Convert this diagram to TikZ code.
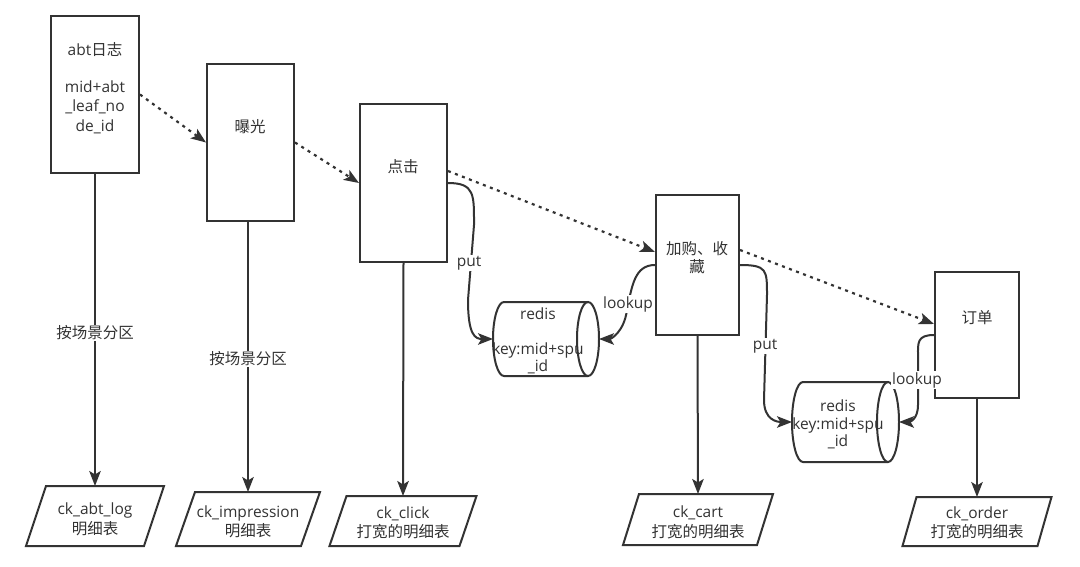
\documentclass[tikz,border=0pt]{standalone}
\usepackage{fontspec}
\setmainfont{Open Sans}
\newfontfamily\cjk{Noto Sans CJK SC}
\usetikzlibrary{arrows.meta,calc}
\definecolor{ink}{HTML}{333333}
\newcommand\zh[1]{{\cjk #1}}
\newcommand\pgram[8]{% name, cx, ytop, ybot, width, skew, texty, text
  \draw[shp,fill=white] ({#2-#5/2-#6/2},#4) -- ({#2+#5/2-#6/2},#4) -- ({#2+#5/2+#6/2},#3) -- ({#2-#5/2+#6/2},#3) -- cycle;
  \node[txt] (#1) at (#2,#7) {#8};
  \coordinate (#1top) at (#2,#3);
}
\begin{document}
\begin{tikzpicture}[x=1pt,y=-1pt,
  shp/.style={draw=ink, line width=2pt},
  box/.style 2 args={shp, fill=white, minimum width=#1pt, minimum height=#2pt, inner sep=0pt},
  txt/.style={text=ink, font=\fontsize{15.5}{19.5}\selectfont, align=center, inner sep=0pt},
  lbl/.style={txt, fill=white, inner sep=1pt},
  tip/.style={-{Stealth[length=15pt,width=11.5pt,inset=3.5pt]}},
  arr/.style={draw=ink, line width=2pt, tip},
  dotarr/.style={draw=ink, line width=2.2pt, dash pattern=on 3pt off 4.5pt, tip},
]
\fill[white] (0,0) rectangle (1080,567);
\useasboundingbox (0,0) rectangle (1080,567);

% boxes
\node[box={88}{157}] (b1) at (95,94.5) {};
\node[box={87}{157}] (b2) at (250.5,142.5) {};
\node[box={87}{158}] (b3) at (403.5,183) {};
\node[box={83}{140}] (b4) at (697.5,265) {};
\node[box={84}{126}] (b5) at (977,335) {};

\node[txt] (t1) at (95,88) {abt\zh{日志}\\[17pt]mid+abt\\\_leaf\_no\\de\_id};
\node[txt] (t2) at (250,127) {\zh{曝光}};
\node[txt] (t3) at (403,167) {\zh{点击}};
\node[txt] (t4) at (697,258) {\zh{加购、收}\\[-1.5pt]\zh{藏}};
\node[txt] (t5) at (977,318) {\zh{订单}};

% parallelograms
\pgram{p1}{95}{486}{546}{118}{20}{519.5}{ck\_abt\_log\\\zh{明细表}}
\pgram{p2}{248}{492}{546}{125}{19}{522}{ck\_impression\\\zh{明细表}}
\pgram{p3}{403}{496}{546}{130}{17}{523}{ck\_click\\\zh{打宽的明细表}}
\pgram{p4}{698}{494}{545}{134}{16}{522.5}{ck\_cart\\\zh{打宽的明细表}}
\pgram{p5}{977}{497}{546}{135}{14}{523}{ck\_order\\\zh{打宽的明细表}}

% cylinders
\draw[shp] (588,302) -- (504,302) arc[start angle=90, end angle=270, x radius=11pt, y radius=37pt] -- (588,376);
\draw[shp] (588,339) ellipse [x radius=11pt, y radius=37pt];
\coordinate (c1w) at (493,339);
\coordinate (c1e) at (599,339);
\node[txt] (c1) at (538,341) {redis\\[15pt]key:mid+spu\\[-2pt]\_id};

\draw[shp] (888,382) -- (803,382) arc[start angle=90, end angle=270, x radius=11pt, y radius=40pt] -- (888,462);
\draw[shp] (888,422) ellipse [x radius=11pt, y radius=40pt];
\coordinate (c2w) at (792,422);
\coordinate (c2e) at (899,422);
\node[txt] (c2) at (838,424.5) {redis\\[-2pt]key:mid+spu\\[-2pt]\_id};

% vertical arrows
\draw[arr] (b1.south) -- (p1top);
\draw[arr] (b2.south -| p2top) -- (p2top);
\draw[arr] (b3.south) -- (p3top);
\draw[arr] (b4.south) -- (p4top);
\draw[arr] (b5.south) -- (p5top);
\node[lbl] at (95,333) {\zh{按场景分区}};
\node[lbl] at (248,359) {\zh{按场景分区}};

% dotted flow
\draw[dotarr] (b1.east) -- (b2.west);
\draw[dotarr] (b2.east) -- (b3.west);
\draw[dotarr] ([yshift=12pt]b3.east) -- ([yshift=13pt]b4.west);
\draw[dotarr] ([yshift=15pt]b4.east) -- ([yshift=11pt]b5.west);

% put / lookup
\draw[arr] (b3.east) .. controls +(27,0) and +(0,-30) .. (474,225) -- (468,300) .. controls +(0,35) and +(-18,0) .. (c1w);
\draw[arr] (b4.west) .. controls +(-20,0) and +(5,-25) .. (627,310) .. controls +(-3,22) and +(12,0) .. (c1e);
\draw[arr] (b4.east) .. controls +(27,0) and +(0,-25) .. (767,295) -- (764,400) .. controls +(0,20) and +(-15,0) .. (c2w);
\draw[arr] (b5.west) .. controls +(-17,0) and +(0,-12) .. (918,355) -- (918,405) .. controls +(0,15) and +(10,0) .. (c2e);
\node[lbl] at (469,263) {put};
\node[lbl] at (628,304) {lookup};
\node[lbl] at (765,346) {put};
\node[lbl] at (917,380) {lookup};
\end{tikzpicture}
\end{document}
